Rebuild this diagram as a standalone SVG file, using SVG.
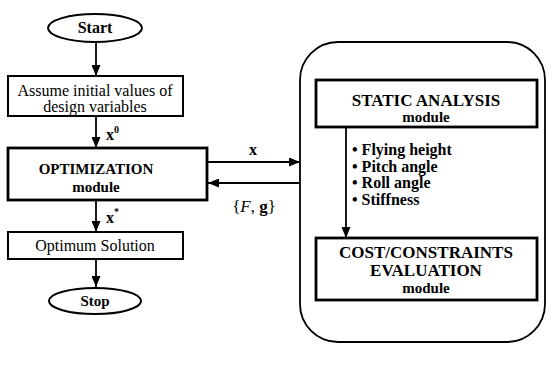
<svg xmlns="http://www.w3.org/2000/svg" width="553" height="369" viewBox="0 0 553 369">
<style>
text{font-family:"Liberation Serif","Times New Roman",serif;fill:#000;text-anchor:middle}
.b{font-weight:bold}
.n{stroke:#000;stroke-width:2;fill:#fff}
.thick{stroke-width:2.8}
.c{stroke:#000;stroke-width:1.8;fill:none}
</style>
<defs>
<marker id="ah" viewBox="0 0 11 9" refX="11" refY="4.5" markerWidth="11" markerHeight="9" markerUnits="userSpaceOnUse" orient="auto">
<path d="M0,0 L11,4.5 L0,9 Z" fill="#000"/>
</marker>
</defs>
<rect width="553" height="369" fill="#fff"/>
<g id="connectors">
<line class="c" x1="96" y1="42" x2="96" y2="76" marker-end="url(#ah)"/>
<line class="c" x1="96" y1="116" x2="96" y2="148" marker-end="url(#ah)"/>
<line class="c" x1="96" y1="200" x2="96" y2="232" marker-end="url(#ah)"/>
<line class="c" x1="96" y1="259" x2="96" y2="287" marker-end="url(#ah)"/>
<line class="c" x1="207" y1="162" x2="300" y2="162" marker-end="url(#ah)"/>
<line class="c" x1="300" y1="183" x2="208" y2="183" marker-end="url(#ah)"/>
<line class="c" x1="346" y1="127" x2="346" y2="238" marker-end="url(#ah)"/>
<text x="106" y="140" class="b" style="font-size:16px;text-anchor:start">x<tspan dy="-7" style="font-size:10px">0</tspan></text>
<text x="106" y="223" class="b" style="font-size:16px;text-anchor:start">x<tspan dy="-8" style="font-size:10px">*</tspan></text>
<text x="253" y="155" class="b" style="font-size:16px">x</text>
<text x="254" y="212" style="font-size:17px">{<tspan font-style="italic">F</tspan>, <tspan font-weight="bold">g</tspan>}</text>
</g>
<g id="start">
<ellipse class="n" cx="95" cy="28" rx="47" ry="14"/>
<text x="95" y="33" class="b" style="font-size:16px">Start</text>
</g>
<g id="assume">
<rect class="n" x="8" y="76" width="175" height="40"/>
<text x="95" y="96" style="font-size:16px">Assume initial values of</text>
<text x="95" y="112" style="font-size:16px">design variables</text>
</g>
<g id="optimization">
<rect class="n thick" x="8" y="148" width="199" height="52"/>
<text x="96" y="174" class="b" style="font-size:15px">OPTIMIZATION</text>
<text x="96" y="192" class="b" style="font-size:15px">module</text>
</g>
<g id="optimum">
<rect class="n" x="8" y="232" width="175" height="27"/>
<text x="95" y="251" style="font-size:16px">Optimum Solution</text>
</g>
<g id="stop">
<ellipse class="n" cx="95" cy="301" rx="46" ry="13"/>
<text x="95" y="306" class="b" style="font-size:15px">Stop</text>
</g>
<g id="analysis-group">
<rect class="c" x="300" y="42" width="245" height="300" rx="38" ry="38"/>
</g>
<g id="static">
<rect class="n thick" x="316" y="80" width="221" height="47"/>
<text x="426" y="106" class="b" style="font-size:17px">STATIC ANALYSIS</text>
<text x="426" y="122" class="b" style="font-size:15px">module</text>
</g>
<g id="outputs">
<text x="352" y="155" class="b" style="font-size:16px;text-anchor:start">• Flying height</text>
<text x="352" y="172" class="b" style="font-size:16px;text-anchor:start">• Pitch angle</text>
<text x="352" y="188" class="b" style="font-size:16px;text-anchor:start">• Roll angle</text>
<text x="352" y="205" class="b" style="font-size:16px;text-anchor:start">• Stiffness</text>
</g>
<g id="cost">
<rect class="n thick" x="316" y="238" width="221" height="62"/>
<text x="426" y="258" class="b" style="font-size:17px">COST/CONSTRAINTS</text>
<text x="426" y="276" class="b" style="font-size:17px">EVALUATION</text>
<text x="426" y="293" class="b" style="font-size:15px">module</text>
</g>
</svg>
